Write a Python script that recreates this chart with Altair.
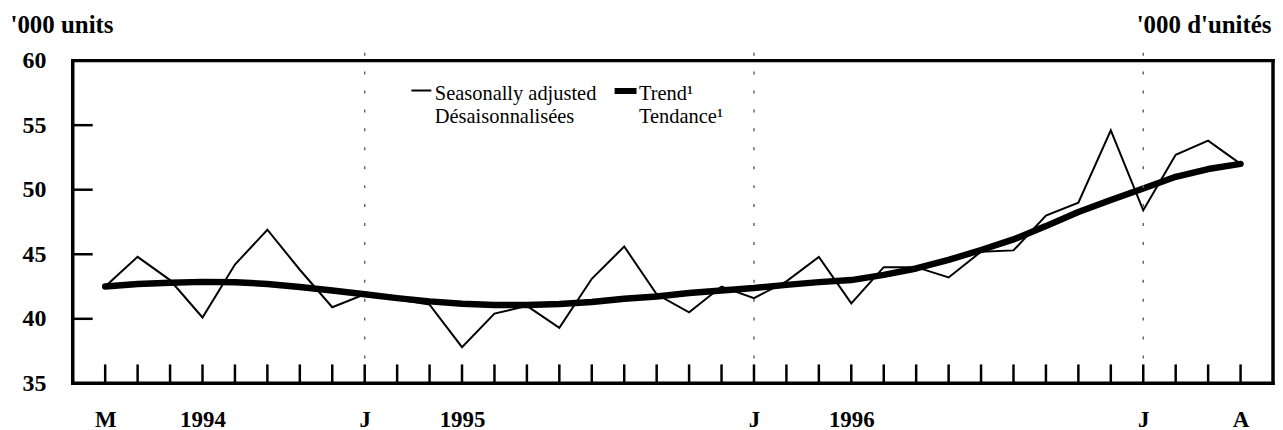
import altair as alt
import pandas as pd

# Months indexed 0..35 : May 1994 .. April 1997
months = list(range(36))
seasonally_adjusted = [42.5, 44.8, 43.0, 40.1, 44.2, 46.9, 43.8, 40.9,
                       41.9, 41.5, 41.1, 37.8, 40.4, 41.0, 39.3, 43.1, 45.6, 41.9, 40.5, 42.5,
                       41.6, 42.9, 44.8, 41.2, 44.0, 44.0, 43.2, 45.2, 45.3, 48.0, 49.0, 54.6,
                       48.4, 52.7, 53.8, 52.0]
trend = [42.5, 42.7, 42.8, 42.86, 42.84, 42.7, 42.46, 42.2,
         41.9, 41.6, 41.35, 41.17, 41.07, 41.07, 41.14, 41.3, 41.55, 41.73, 42.0, 42.2,
         42.38, 42.63, 42.84, 43.0, 43.4, 43.9, 44.56, 45.33, 46.15, 47.18, 48.28, 49.2,
         50.1, 51.0, 51.6, 52.0]

label_months = [0, 3, 8, 11, 20, 23, 32, 35]
label_texts = ["M", "1994", "J", "1995", "J", "1996", "J", "A"]
january_months = [8, 20, 32]
y_ticks = [35, 40, 45, 50, 55, 60]
y_inner_ticks = [40, 45, 50, 55]

FONT = "Liberation Serif"
W, H = 1205, 324

df = pd.DataFrame({"m": months, "sa": seasonally_adjusted, "trend": trend})
df_months = pd.DataFrame({"m": months})
df_jan = pd.DataFrame({"m": january_months})
df_yt = pd.DataFrame({"v": y_inner_ticks})
one = alt.Data(values=[{"k": 0}])

label_expr = "''"
for mm, tt in reversed(list(zip(label_months, label_texts))):
    label_expr = f"datum.value == {mm} ? '{tt}' : ({label_expr})"

xscale = alt.Scale(domain=[-1, 36], nice=False, zero=False)
yscale = alt.Scale(domain=[35, 60], nice=False, zero=False)

x_axis = alt.Axis(values=label_months, labelExpr=label_expr, ticks=False, domain=False,
                  grid=False, title=None, labelFont=FONT, labelFontSize=23,
                  labelFontWeight="bold", labelColor="black", labelPadding=43,
                  labelBaseline="alphabetic", labelAngle=0)
y_axis = alt.Axis(orient="left", values=y_ticks, ticks=False, domain=False, grid=False,
                  labelFont=FONT, labelFontSize=24, labelFontWeight="bold",
                  labelColor="black", labelPadding=27, labelBaseline="middle",
                  title="'000 units", titleAngle=0, titleAlign="left",
                  titleBaseline="alphabetic", titleX=-63, titleY=-28,
                  titleFont=FONT, titleFontSize=25, titleFontWeight="bold",
                  titleColor="black")
y_axis_right = alt.Axis(orient="right", labels=False, ticks=False, domain=False,
                        grid=False, title="'000 d'unités", titleAngle=0,
                        titleAlign="right", titleBaseline="alphabetic",
                        titleX=-2, titleY=-28, titleFont=FONT, titleFontSize=25,
                        titleFontWeight="bold", titleColor="black")

base = alt.Chart(df)

trend_line = base.mark_line(color="black", strokeWidth=6.5, strokeCap="round",
                            strokeJoin="round").encode(
    x=alt.X("m:Q", scale=xscale, axis=x_axis),
    y=alt.Y("trend:Q", scale=yscale, axis=y_axis),
)
sa_line = base.mark_line(color="black", strokeWidth=2).encode(
    x=alt.X("m:Q", scale=xscale, axis=x_axis),
    y=alt.Y("sa:Q", scale=yscale, axis=y_axis_right),
)

x_ticks = alt.Chart(df_months).mark_rule(color="black", strokeWidth=2.5).encode(
    x=alt.X("m:Q", scale=xscale, axis=x_axis), y=alt.value(H), y2=alt.value(H - 19))
y_ticks_inner = alt.Chart(df_yt).mark_rule(color="black", strokeWidth=2.5).encode(
    y=alt.Y("v:Q", scale=yscale, axis=None), x=alt.value(0), x2=alt.value(20))
jan_rules = alt.Chart(df_jan).mark_rule(color="#666666", strokeWidth=1.5,
                                         strokeDash=[3, 16]).encode(
    x=alt.X("m:Q", scale=xscale, axis=x_axis), y=alt.value(-8), y2=alt.value(H - 21))

frame_style = dict(color="black", strokeWidth=3.5, strokeCap="square")
frame_top = alt.Chart(one).mark_rule(**frame_style).encode(
    x=alt.value(0), x2=alt.value(W), y=alt.value(0))
frame_bottom = alt.Chart(one).mark_rule(**frame_style).encode(
    x=alt.value(0), x2=alt.value(W), y=alt.value(H))
frame_left = alt.Chart(one).mark_rule(**frame_style).encode(
    x=alt.value(0), y=alt.value(0), y2=alt.value(H))
frame_right = alt.Chart(one).mark_rule(**frame_style).encode(
    x=alt.value(W), y=alt.value(0), y2=alt.value(H))

leg_thin = alt.Chart(one).mark_rule(color="black", strokeWidth=2).encode(
    x=alt.value(340), x2=alt.value(360), y=alt.value(30))
leg_thick = alt.Chart(one).mark_rule(color="black", strokeWidth=6, strokeCap="butt").encode(
    x=alt.value(544), x2=alt.value(566), y=alt.value(30.5))
leg_t1 = alt.Chart(one).mark_text(font=FONT, fontSize=20.5, align="left",
                                  baseline="alphabetic", lineBreak="\n",
                                  lineHeight=23, color="black").encode(
    x=alt.value(363.5), y=alt.value(40),
    text=alt.value("Seasonally adjusted\nDésaisonnalisées"))
leg_t2 = alt.Chart(one).mark_text(font=FONT, fontSize=20.5, align="left",
                                  baseline="alphabetic", lineBreak="\n",
                                  lineHeight=23, color="black").encode(
    x=alt.value(568.5), y=alt.value(40),
    text=alt.value("Trend¹\nTendance¹"))

chart = alt.layer(
    trend_line, sa_line, jan_rules, x_ticks, y_ticks_inner,
    frame_top, frame_bottom, frame_left, frame_right,
    leg_thin, leg_thick, leg_t1, leg_t2
).resolve_axis(y="independent").properties(
    width=W, height=H,
    autosize=alt.AutoSizeParams(type="none"),
    padding={"left": 65, "top": 52, "right": 2, "bottom": 46},
).configure_view(stroke=None).configure(background="white")

chart.save("out.html", embed_options={"renderer": "svg", "actions": False})
